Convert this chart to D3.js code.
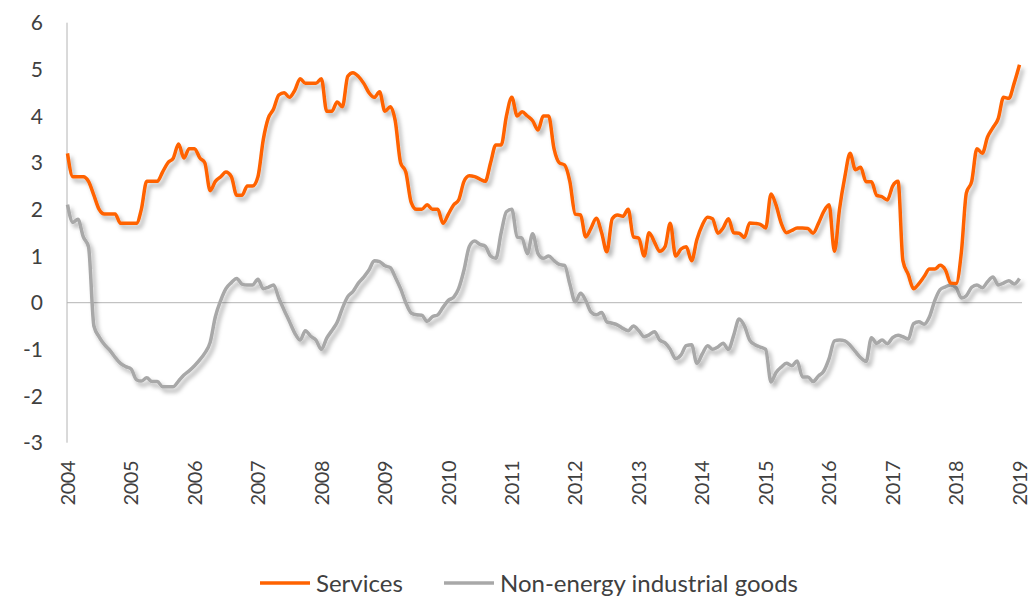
<!DOCTYPE html>
<html>
  <head>
    <meta charset="utf-8" />
    <script src="https://d3js.org/d3.v7.min.js"></script>
    <style>
      body { margin: 0; background: #fff; }
      text { font-family: Lato, "Noto Sans", sans-serif; fill: #404040; }
    </style>
  </head>
  <body>
    <svg id="chart" width="1033" height="596"></svg>

    <script>
      // monthly values, Jan 2004 .. Jan 2019 (one row per year)
      const services = [
        3.2, 2.7, 2.7, 2.7, 2.6, 2.3, 2.0, 1.9, 1.9, 1.9, 1.7, 1.7,
        1.7, 1.7, 2.0, 2.6, 2.6, 2.6, 2.8, 3.0, 3.1, 3.4, 3.1, 3.3,
        3.3, 3.1, 3.0, 2.4, 2.6, 2.7, 2.8, 2.7, 2.3, 2.3, 2.5, 2.5,
        2.7, 3.5, 3.95, 4.15, 4.45, 4.5, 4.4, 4.55, 4.8, 4.7, 4.7, 4.7,
        4.8, 4.1, 4.1, 4.3, 4.2, 4.85, 4.93, 4.85, 4.7, 4.5, 4.4, 4.52,
        4.1, 4.2, 3.9, 3.0, 2.8, 2.15, 2.0, 2.0, 2.1, 2.0, 2.0, 1.7,
        1.9, 2.1, 2.2, 2.6, 2.72, 2.7, 2.65, 2.6, 3.0, 3.38, 3.38, 4.0,
        4.4, 4.0, 4.09, 4.0, 3.9, 3.7, 4.0, 4.0, 3.3, 3.0, 2.95, 2.6,
        1.9, 1.88, 1.41, 1.6, 1.81, 1.5, 1.09, 1.8, 1.88, 1.85, 2.0, 1.41,
        1.38, 1.0, 1.5, 1.3, 1.1, 1.2, 1.7, 1.0, 1.15, 1.2, 0.9, 1.35,
        1.66, 1.83, 1.8, 1.49, 1.6, 1.8, 1.5, 1.49, 1.4, 1.71, 1.7, 1.68,
        1.6, 2.33, 2.1, 1.7, 1.5, 1.55, 1.6, 1.6, 1.59, 1.49, 1.7, 1.95,
        2.1, 1.1, 2.0, 2.7, 3.2, 2.85, 2.9, 2.59, 2.59, 2.3, 2.27, 2.2,
        2.5, 2.6, 0.9, 0.6, 0.3, 0.41, 0.56, 0.72, 0.72, 0.8, 0.7, 0.42,
        0.41, 1.1, 2.35, 2.6, 3.3, 3.2, 3.55, 3.75, 3.95, 4.4, 4.38, 4.7,
        5.1
      ];
      const goods = [
        2.1, 1.72, 1.79, 1.41, 1.2, -0.5, -0.73, -0.9, -1.02, -1.17, -1.3, -1.37,
        -1.42, -1.65, -1.68, -1.61, -1.69, -1.69, -1.8, -1.8, -1.8, -1.68, -1.55, -1.46,
        -1.35, -1.22, -1.08, -0.85, -0.3, 0.05, 0.3, 0.43, 0.52, 0.4, 0.38, 0.38,
        0.5, 0.3, 0.33, 0.38, 0.1, -0.16, -0.4, -0.65, -0.8, -0.6, -0.72, -0.8,
        -1.0, -0.76, -0.6, -0.42, -0.12, 0.13, 0.24, 0.42, 0.55, 0.7, 0.9, 0.88,
        0.79, 0.75, 0.55, 0.3, 0.0, -0.22, -0.26, -0.27, -0.4, -0.3, -0.26, -0.1,
        0.05, 0.12, 0.3, 0.7, 1.2, 1.32, 1.25, 1.21, 1.0, 0.95, 1.5, 1.95,
        2.0, 1.41, 1.38, 1.05, 1.48, 1.05, 0.95, 1.0, 0.9, 0.82, 0.8, 0.4,
        0.02, 0.2, 0.05, -0.2, -0.26, -0.21, -0.41, -0.44, -0.48, -0.55, -0.6, -0.5,
        -0.6, -0.73, -0.69, -0.62, -0.8, -0.86, -1.0, -1.2, -1.12, -0.92, -0.9, -1.3,
        -1.1, -0.92, -1.0, -0.95, -0.87, -1.0, -0.7, -0.35, -0.5, -0.8, -0.9, -0.95,
        -1.0, -1.7, -1.5, -1.38, -1.3, -1.35, -1.25, -1.59, -1.59, -1.69, -1.57, -1.47,
        -1.2, -0.82, -0.8, -0.82, -0.91, -1.05, -1.18, -1.26, -0.75, -0.87, -0.8, -0.88,
        -0.75, -0.7, -0.73, -0.78, -0.45, -0.41, -0.46, -0.3, 0.05, 0.28, 0.34, 0.38,
        0.32, 0.1, 0.15, 0.33, 0.38, 0.32, 0.45, 0.55, 0.38, 0.42, 0.47, 0.4,
        0.52
      ];
      const years = d3.range(2004, 2020);
      const yTicks = d3.range(-3, 7);

      const svg = d3.select("#chart");

      // drop shadow under both lines
      const f = svg.append("defs").append("filter").attr("id", "shadow")
        .attr("x", "-5%").attr("y", "-5%").attr("width", "110%").attr("height", "120%");
      f.append("feDropShadow")
        .attr("dx", 3).attr("dy", 4).attr("stdDeviation", 2)
        .attr("flood-color", "#000").attr("flood-opacity", 0.3);

      const x = d3.scaleTime()
        .domain([new Date(2004, 0, 1), new Date(2019, 0, 1)])
        .range([67.5, 1019.5]);
      const y = d3.scaleLinear().domain([-3, 6]).range([442.7, 22.7]);

      const months = d3.range(services.length).map(i => new Date(2004, i, 1));

      // y labels
      svg.append("g")
        .selectAll("text")
        .data(yTicks)
        .join("text")
        .attr("x", 43)
        .attr("y", d => y(d))
        .attr("dy", "0.36em")
        .attr("text-anchor", "end")
        .attr("font-size", 21)
        .text(d => d);

      // x labels, rotated
      svg.append("g")
        .selectAll("text")
        .data(years)
        .join("text")
        .attr("transform", d => `translate(${x(new Date(d, 0, 1))},461) rotate(-90)`)
        .attr("dy", "0.36em")
        .attr("text-anchor", "end")
        .attr("font-size", 20)
        .attr("letter-spacing", -0.5)
        .text(d => d);

      // axis lines
      svg.append("line")
        .attr("x1", 67).attr("x2", 67)
        .attr("y1", y(6)).attr("y2", y(-3))
        .attr("stroke", "#b4b4b4").attr("stroke-width", 1);
      svg.append("line")
        .attr("x1", 67).attr("x2", 1022)
        .attr("y1", y(0)).attr("y2", y(0))
        .attr("stroke", "#b4b4b4").attr("stroke-width", 1);

      const line = d3.line()
        .x((d, i) => x(months[i]))
        .y(d => y(d))
        .curve(d3.curveMonotoneX);

      svg.append("path")
        .datum(goods)
        .attr("d", line)
        .attr("fill", "none")
        .attr("stroke", "#a8a8a8")
        .attr("stroke-width", 3.5)
        .attr("stroke-linejoin", "round")
        .attr("filter", "url(#shadow)");

      svg.append("path")
        .datum(services)
        .attr("d", line)
        .attr("fill", "none")
        .attr("stroke", "#ff6200")
        .attr("stroke-width", 3.5)
        .attr("stroke-linejoin", "round")
        .attr("filter", "url(#shadow)");

      // legend
      const legend = [
        { name: "Services", color: "#ff6200", x: 260 },
        { name: "Non-energy industrial goods", color: "#a8a8a8", x: 444 }
      ];
      const lg = svg.append("g").selectAll("g").data(legend).join("g")
        .attr("transform", d => `translate(${d.x},583)`);
      lg.append("line")
        .attr("x1", 0).attr("x2", 50)
        .attr("stroke", d => d.color).attr("stroke-width", 3.5);
      lg.append("text")
        .attr("x", 56)
        .attr("dy", "0.36em")
        .attr("font-size", 24)
        .text(d => d.name);
    </script>
  </body>
</html>
